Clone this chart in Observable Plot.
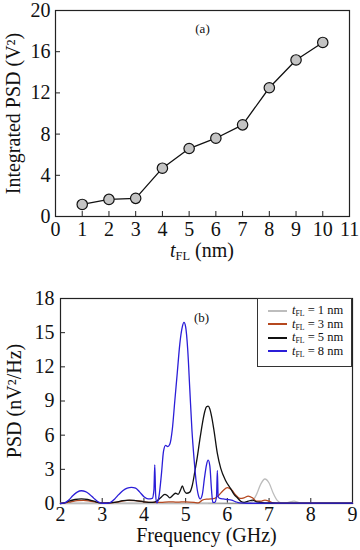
<!DOCTYPE html>
<html><head><meta charset="utf-8">
<script src="https://cdn.jsdelivr.net/npm/d3@7"></script>
<script src="https://cdn.jsdelivr.net/npm/@observablehq/plot@0.6"></script>
<style>
body{margin:0;background:#fff;}
#wrap{position:relative;width:360px;height:550px;font-family:"Liberation Serif",serif;color:#111;}
#wrap svg{display:block;}
#wrap svg text{font-family:"Liberation Serif",serif !important;}
.xlab{position:absolute;font-size:20px;line-height:22px;white-space:nowrap;transform:translateX(-50%);}
.legend{position:absolute;left:257px;top:298px;width:95px;height:69px;border:1px solid #333;box-sizing:border-box;background:#fff;font-size:12.5px;padding-top:5px;}
.legend .row{height:13.5px;line-height:13.5px;display:flex;align-items:center;white-space:nowrap;}
.legend svg{margin-left:10px;margin-right:5px;}
sub{font-size:0.62em;vertical-align:-0.25em;line-height:0;}
</style></head><body><div id="wrap"></div>
<script>
// ---- Panel (a) data ----
const tFL = [1,2,3,4,5,6,7,8,9,10];
const integratedPSD = [1.17,1.66,1.76,4.69,6.6,7.6,8.9,12.5,15.2,16.9];
const aTicksX = [0,1,2,3,4,5,6,7,8,9,10,11];
const aTicksY = [0,4,8,12,16,20];

// ---- Panel (b) data ----
const seriesNames = ["1 nm","3 nm","5 nm","8 nm"];
const seriesColors = ["#bdbdbd","#b5481f","#111111","#2b1ed8"];

const f1 = [2.0,3.0,4.0,5.0,6.0,6.5,6.6,6.7,6.8,6.9,7.0,7.1,7.2,7.3,7.4,7.5,7.6,7.7,7.8,8.0,9.0];
const p1 = [0.02,0.02,0.02,0.02,0.03,0.05,0.2,0.8,1.7,2.15,1.8,0.9,0.25,0.05,0.05,0.15,0.2,0.1,0.03,0.02,0.02];

const f3 = [2.0,2.1,2.25,2.4,2.55,2.7,2.85,3.0,3.2,3.4,3.6,3.8,4.0,4.2,4.4,4.6,4.8,5.0,5.2,5.3,5.4,5.5,5.6,5.7,5.8,5.9,6.0,6.1,6.2,6.3,6.4,6.5,6.6,6.7,6.8,6.9,7.0,7.1,7.2,8.0,9.0];
const p3 = [0.0,0.05,0.15,0.25,0.28,0.22,0.12,0.05,0.05,0.15,0.28,0.25,0.15,0.1,0.1,0.15,0.12,0.15,0.1,0.05,0.3,0.38,0.4,0.45,0.75,1.15,1.4,1.2,0.75,0.45,0.5,0.65,0.5,0.2,0.2,0.3,0.2,0.05,0.02,0.02,0.02];

const f5 = [2.0,2.1,2.2,2.35,2.5,2.65,2.8,2.95,3.1,3.3,3.5,3.65,3.8,4.0,4.2,4.3,4.4,4.5,4.56,4.62,4.7,4.76,4.82,4.88,4.92,4.97,5.02,5.1,5.16,5.22,5.28,5.34,5.4,5.46,5.5,5.54,5.58,5.63,5.68,5.76,5.84,5.96,6.08,6.16,6.24,6.32,6.4,6.5,6.6,6.7,6.8,7.0,7.5,8.0,9.0];
const p5 = [0.0,0.05,0.2,0.35,0.4,0.35,0.2,0.05,0.02,0.1,0.25,0.3,0.25,0.15,0.1,0.2,0.5,0.8,0.7,0.5,0.75,0.9,0.8,1.2,1.55,1.1,0.9,1.0,1.6,2.8,4.1,5.6,7.0,8.1,8.5,8.55,8.3,7.5,6.4,4.4,3.1,2.0,1.3,0.8,0.5,0.2,0.1,0.2,0.3,0.15,0.1,0.05,0.03,0.03,0.02];

const f8 = [2.0,2.1,2.2,2.3,2.4,2.5,2.6,2.7,2.8,2.9,3.0,3.1,3.2,3.3,3.4,3.5,3.6,3.7,3.8,3.9,4.0,4.1,4.2,4.24,4.26,4.28,4.31,4.36,4.42,4.47,4.52,4.57,4.62,4.68,4.74,4.8,4.86,4.92,4.96,5.0,5.05,5.1,5.15,5.2,5.25,5.3,5.35,5.4,5.45,5.5,5.54,5.58,5.62,5.65,5.7,5.74,5.76,5.78,5.82,5.9,6.0,6.1,6.2,6.3,6.5,7.0,8.0,9.0];
const p8 = [0.0,0.05,0.3,0.7,1.0,1.12,1.05,0.8,0.45,0.15,0.02,0.02,0.1,0.4,0.8,1.15,1.35,1.42,1.35,1.0,0.6,0.4,0.45,1.2,3.4,0.8,0.05,0.6,2.6,4.6,5.1,5.0,5.2,6.5,9.0,11.5,14.0,15.5,15.9,15.5,13.5,10.0,6.5,4.0,2.0,0.8,0.4,0.8,2.2,3.4,3.8,3.3,1.2,0.1,0.1,0.6,2.9,0.6,0.45,0.4,0.35,0.3,0.15,0.05,0.02,0.03,0.03,0.03];

const bTicksX = [2,3,4,5,6,7,8,9];
const bTicksY = [0,3,6,9,12,15,18];

const freqs = [f1,f3,f5,f8];
const psds = [p1,p3,p5,p8];
const spectra = seriesNames.flatMap((s,i)=>freqs[i].map((f,j)=>({series:s,f,p:psds[i][j]})));

const font = {fontFamily:"'Liberation Serif', serif", fontSize:"20px", color:"#111", background:"white", overflow:"visible"};
const wrap = document.getElementById("wrap");

// ---- Panel (a) ----
const pointsA = tFL.map((t,i)=>({t,v:integratedPSD[i]}));
const plotA = Plot.plot({
  width:360, height:270, marginTop:10, marginRight:11, marginBottom:54, marginLeft:55,
  style:font,
  x:{domain:[0,11]}, y:{domain:[0,20]},
  marks:[
    Plot.frame({stroke:"#222", strokeWidth:1.2}),
    Plot.axisX(aTicksX,{tickSize:-5, fill:"none", stroke:"#222"}),
    Plot.axisY(aTicksY,{tickSize:-5, fill:"none", stroke:"#222"}),
    Plot.axisX(aTicksX,{tickSize:0, tickPadding:5, label:null}),
    Plot.axisY(aTicksY,{tickSize:0, tickPadding:5, label:"Integrated PSD (V²)", labelAnchor:"center", labelArrow:"none", labelOffset:50}),
    Plot.text(["(a)"],{frameAnchor:"top", dy:13, fontSize:13}),
    Plot.line(pointsA,{x:"t", y:"v", stroke:"#111", strokeWidth:1.3}),
    Plot.dot(pointsA,{x:"t", y:"v", r:5.2, fill:"#c4c4c4", stroke:"#111", strokeWidth:1.2})
  ]
});
wrap.appendChild(plotA);
const xsA = plotA.scale("x").range;
const labA = document.createElement("div");
labA.className = "xlab";
labA.style.left = ((xsA[0]+xsA[1])/2) + "px";
labA.style.top = "239px";
labA.innerHTML = "<i>t</i><sub>FL</sub> (nm)";
wrap.appendChild(labA);

// ---- Panel (b) ----
const plotB = Plot.plot({
  width:360, height:280, marginTop:28, marginRight:8, marginBottom:47, marginLeft:60,
  style:font,
  x:{domain:[2,9]}, y:{domain:[0,18]},
  color:{domain:seriesNames, range:seriesColors},
  marks:[
    Plot.frame({stroke:"#222", strokeWidth:1.2}),
    Plot.axisX(bTicksX,{tickSize:-5, fill:"none", stroke:"#222"}),
    Plot.axisY(bTicksY,{tickSize:-5, fill:"none", stroke:"#222"}),
    Plot.axisX(bTicksX,{tickSize:0, tickPadding:3, label:"Frequency (GHz)", labelAnchor:"center", labelArrow:"none", labelOffset:38}),
    Plot.axisY(bTicksY,{tickSize:0, tickPadding:6, label:"PSD (nV²/Hz)", labelAnchor:"center", labelArrow:"none", labelOffset:54}),
    Plot.text(["(b)"],{frameAnchor:"top", dy:14, dx:-5, fontSize:13}),
    Plot.line(spectra,{x:"f", y:"p", z:"series", stroke:"series", strokeWidth:1.3, curve:"monotone-x"})
  ]
});
plotB.style.position = "absolute";
plotB.style.top = "270px";
plotB.style.left = "0px";
wrap.appendChild(plotB);

// legend
const leg = document.createElement("div");
leg.className = "legend";
leg.innerHTML = seriesNames.map((s,i)=>`<div class="row"><svg width="19" height="4"><line x1="0" x2="19" y1="2" y2="2" stroke="${seriesColors[i]}" stroke-width="2"/></svg><span><i>t</i><sub>FL</sub> = ${s}</span></div>`).join("");
wrap.appendChild(leg);
</script></body></html>
